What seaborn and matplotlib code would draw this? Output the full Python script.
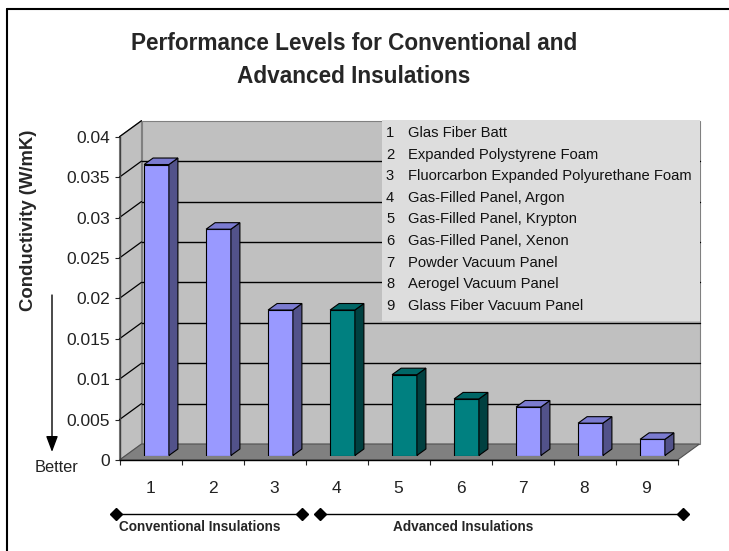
import numpy as np
import pandas as pd
import matplotlib
matplotlib.use("Agg")
import matplotlib.pyplot as plt
import seaborn as sns
from matplotlib.patches import Polygon, Rectangle
from matplotlib.lines import Line2D
from matplotlib.transforms import blended_transform_factory
from matplotlib import font_manager

# ---- data ----
categories = ["1", "2", "3", "4", "5", "6", "7", "8", "9"]
materials = [
    "Glas Fiber Batt",
    "Expanded Polystyrene Foam",
    "Fluorcarbon Expanded Polyurethane Foam",
    "Gas-Filled Panel, Argon",
    "Gas-Filled Panel, Krypton",
    "Gas-Filled Panel, Xenon",
    "Powder Vacuum Panel",
    "Aerogel Vacuum Panel",
    "Glass Fiber Vacuum Panel",
]
conductivity = [0.036, 0.028, 0.018, 0.018, 0.010, 0.007, 0.006, 0.004, 0.002]
panel_type = ["solid", "solid", "solid", "gas", "gas", "gas", "solid", "solid", "solid"]
y_ticks = [0, 0.005, 0.01, 0.015, 0.02, 0.025, 0.03, 0.035, 0.04]
y_tick_labels = ["0", "0.005", "0.01", "0.015", "0.02", "0.025", "0.03", "0.035", "0.04"]
group_names = ["Conventional Insulations", "Advanced Insulations"]

# ---- styling ----
face_colors = {"solid": "#9999FF", "gas": "#008080"}
side_colors = {"solid": "#52528A", "gas": "#004040"}
top_colors = {"solid": "#7B7BD0", "gas": "#006666"}
WALL = "#C0C0C0"
FLOOR = "#808080"

sns.set_style("white")
plt.rcParams["font.family"] = ["Liberation Sans", "DejaVu Sans"]
available = {f.name for f in font_manager.fontManager.ttflist}
narrow = "Liberation Sans Narrow" if "Liberation Sans Narrow" in available else "Liberation Sans"

W, H = 729, 551
fig = plt.figure(figsize=(W / 100, H / 100), dpi=100)
fig.patch.set_facecolor("white")

# front plane of the plot box, in image pixels
FL, FR, FB, FT = 119.5, 677.5, 460.0, 136.7
DEPTH = (22.0, 16.0)       # wall depth (px right, px up)
BAR_SHIFT = (6.0, 4.5)     # bars sit slightly behind the front plane
BAR_DEPTH = (9.0, 6.5)     # bar thickness
ax_w, ax_h = FR - FL, FB - FT
rect = [FL / W, 1 - FB / H, ax_w / W, ax_h / H]

ax = fig.add_axes(rect)
ax.set_facecolor("none")
ax.set_xlim(-0.5, 8.5)
ax.set_ylim(0, 0.04)
dxa, dya = DEPTH[0] / ax_w, DEPTH[1] / ax_h

# walls and floor
left_wall = Polygon([(0, 0), (dxa, dya), (dxa, 1 + dya), (0, 1)], closed=True,
                    facecolor=WALL, edgecolor="#808080", lw=0.8,
                    transform=ax.transAxes, clip_on=False, zorder=0)
back_wall = Polygon([(dxa, dya), (1 + dxa, dya), (1 + dxa, 1 + dya), (dxa, 1 + dya)],
                    closed=True, facecolor=WALL, edgecolor="#808080", lw=0.8,
                    transform=ax.transAxes, clip_on=False, zorder=0)
floor = Polygon([(0, 0), (1, 0), (1 + dxa, dya), (dxa, dya)], closed=True,
                facecolor=FLOOR, edgecolor="#505050", lw=0.8,
                transform=ax.transAxes, clip_on=False, zorder=0.5)
for p in (left_wall, back_wall, floor):
    ax.add_patch(p)

# gridlines on the back wall and the left wall
for v in y_ticks[1:-1]:
    ya = v / 0.04
    ax.add_line(Line2D([dxa, 1 + dxa], [ya + dya, ya + dya], color="black", lw=1.0,
                       transform=ax.transAxes, clip_on=False, zorder=0.8))
for v in y_ticks[1:]:
    ya = v / 0.04
    ax.add_line(Line2D([0, dxa], [ya, ya + dya], color="black", lw=0.9,
                       transform=ax.transAxes, clip_on=False, zorder=0.8))

# axes, ticks and labels
for s in ("top", "right"):
    ax.spines[s].set_visible(False)
ax.spines["left"].set_color("#404040")
ax.spines["bottom"].set_color("black")
ax.spines["left"].set_linewidth(1.0)
ax.spines["bottom"].set_linewidth(1.0)
ax.set_yticks(y_ticks)
ax.set_yticklabels(y_tick_labels, fontsize=12.5, color="#222222")
ax.tick_params(axis="y", length=3.6, width=0.8, pad=3, direction="out", left=True)
ax.set_xticks(range(len(categories)))
ax.set_xticklabels(categories, fontsize=12.5, color="#222222")
ax.tick_params(axis="x", which="major", length=0, pad=15)
ax.set_xticks(np.arange(-0.5, len(categories)), minor=True)
ax.tick_params(axis="x", which="minor", length=3.6, width=0.8, direction="out", bottom=True)
ax.set_xlabel("")
ax.set_ylabel("")

# bars
bar_ax = fig.add_axes([(FL + BAR_SHIFT[0]) / W, 1 - (FB - BAR_SHIFT[1]) / H, ax_w / W, ax_h / H])
df = pd.DataFrame({"item": categories, "k": conductivity, "type": panel_type})
sns.barplot(data=df, x="item", y="k", hue="type", palette=face_colors, dodge=False,
            width=0.4, saturation=1, legend=False, edgecolor="black", linewidth=0.8,
            ax=bar_ax)
bar_ax.set_xlim(-0.5, 8.5)
bar_ax.set_ylim(0, 0.04)
bar_ax.axis("off")

bdx = BAR_DEPTH[0] / (ax_w / len(categories))
bdy = BAR_DEPTH[1] / ax_h * 0.04
for p in list(bar_ax.patches):
    x0, w, h = p.get_x(), p.get_width(), p.get_height()
    if w <= 0:
        continue
    idx = int(round(x0 + w / 2))
    kind = panel_type[idx]
    side = Polygon([(x0 + w, 0), (x0 + w + bdx, bdy), (x0 + w + bdx, h + bdy), (x0 + w, h)],
                   closed=True, facecolor=side_colors[kind], edgecolor="black", lw=0.8,
                   clip_on=False)
    top = Polygon([(x0, h), (x0 + bdx, h + bdy), (x0 + w + bdx, h + bdy), (x0 + w, h)],
                  closed=True, facecolor=top_colors[kind], edgecolor="black", lw=0.8,
                  clip_on=False)
    bar_ax.add_patch(side)
    bar_ax.add_patch(top)

# key box listing the materials
LX0, LX1, LY0, LY1 = 382, 700, 120, 321
fig.patches.append(Rectangle((LX0 / W, 1 - LY1 / H), (LX1 - LX0) / W, (LY1 - LY0) / H,
                             transform=fig.transFigure, facecolor="#DDDDDD",
                             edgecolor="none", zorder=2))
for i, (c, m) in enumerate(zip(categories, materials)):
    yy = 1 - (133 + 21.6 * i) / H
    fig.text(386 / W, yy, c, fontsize=10.65, va="center", ha="left", color="#111111", zorder=3)
    fig.text(408 / W, yy, m, fontsize=10.65, va="center", ha="left", color="#111111", zorder=3)

# title
fig.text(354 / W, 1 - 44 / H, "Performance Levels for Conventional and",
         fontsize=16.3, fontweight="bold", ha="center", va="center")
fig.text(354 / W, 1 - 76 / H, "Advanced Insulations",
         fontsize=16.3, fontweight="bold", ha="center", va="center")

# y axis title and "better" arrow
fig.text(29 / W, 1 - 220 / H, "Conductivity (W/mK)", rotation=90, fontsize=13.3,
         fontweight="bold", ha="center", va="center")
ax.annotate("", xy=(52, H - 452), xytext=(52, H - 295), xycoords="figure pixels",
            textcoords="figure pixels", annotation_clip=False,
            arrowprops=dict(arrowstyle="-|>,head_length=0.8,head_width=0.3",
                            mutation_scale=12, color="black", lw=1.0,
                            shrinkA=0, shrinkB=0))
fig.text(56 / W, 1 - 467 / H, "Better", fontsize=11.8, ha="center", va="center",
         color="#222222")

# group brackets under the category axis
btrans = blended_transform_factory(ax.transData, fig.transFigure)
spans = [(-0.56, 2.44), (2.73, 8.59)]
label_x = [0.80, 5.04]
for name, (a, b), lx in zip(group_names, spans, label_x):
    ax.add_line(Line2D([a, b], [1 - 514 / H] * 2, color="black", lw=1.0, marker="D",
                       markersize=6.5, transform=btrans, clip_on=False))
    ax.text(lx, 1 - 527 / H, name, transform=btrans, ha="center", va="center",
            fontsize=9.8, fontweight="bold", family=[narrow, "DejaVu Sans"])

# outer frame (left and top edges)
fig.add_artist(Line2D([6.5 / W, 6.5 / W], [0, 1 - 8.5 / H], color="black", lw=1.5,
                      transform=fig.transFigure))
fig.add_artist(Line2D([6.5 / W, 1], [1 - 8.5 / H, 1 - 8.5 / H], color="black", lw=1.5,
                      transform=fig.transFigure))

fig.savefig("out.png", dpi=100)
